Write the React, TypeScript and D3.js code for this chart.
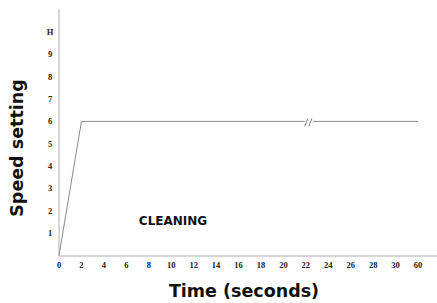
import React from "react";
import * as d3 from "d3";

const xCategories = ["0", "2", "4", "6", "8", "10", "12", "14", "16", "18", "20", "22", "24", "26", "28", "30", "60"];
const yTicks = [1, 2, 3, 4, 5, 6, 7, 8, 9, 10];
const yTickLabels = ["1", "2", "3", "4", "5", "6", "7", "8", "9", "H"];
const lineX = ["0", "2", "60"];
const lineY = [0, 6, 6];
const breakAfter = "22";
const annotation = "CLEANING";

const W = 437;
const H = 303;

export default function App() {
  const x = d3.scalePoint<string>().domain(xCategories).range([59, 418]);
  const y = d3.scaleLinear().domain([0, 10]).range([255.5, 32]);
  const pts: [number, number][] = lineX.map((c, i) => [x(c)!, y(lineY[i])]);
  const line = d3.line();
  const bx = x(breakAfter)! + 3;
  const by = y(6);
  const serif = "'Liberation Serif', 'DejaVu Serif', serif";
  const sans = "'DejaVu Sans', 'Liberation Sans', sans-serif";
  return (
    <svg width={W} height={H} style={{ position: "absolute", left: 0, top: 0, background: "#fff" }}>
      {/* axes */}
      <line x1={59} x2={59} y1={9} y2={256} stroke="#c8c8c8" strokeWidth={1.5} />
      <line x1={59} x2={437} y1={256} y2={256} stroke="#c8c8c8" strokeWidth={1.5} />
      {/* y tick labels */}
      {yTicks.map((t, i) => (
        <text key={t} x={50} y={y(t)} dy="0.35em" textAnchor="middle" fontFamily={serif} fontWeight="bold" fontSize={8.5} fill="#222">
          {yTickLabels[i]}
        </text>
      ))}
      {/* x tick labels */}
      {xCategories.map((c) => (
        <text key={c} x={x(c)!} y={268} textAnchor="middle" fontFamily={serif} fontWeight="bold" fontSize={8.5} fill="#222">
          {c}
        </text>
      ))}
      {/* data line */}
      <path d={line(pts)!} fill="none" stroke="#8a8a8a" strokeWidth={1} />
      {/* break marks */}
      <rect x={bx - 4} y={by - 2} width={8} height={4} fill="#fff" />
      <line x1={bx - 4} x2={bx - 1} y1={by + 5} y2={by - 3} stroke="#777" strokeWidth={1} />
      <line x1={bx} x2={bx + 3} y1={by + 5} y2={by - 3} stroke="#777" strokeWidth={1} />
      {/* annotation */}
      <text x={173} y={225} textAnchor="middle" fontFamily={sans} fontWeight="bold" fontSize={12} fill="#111">
        {annotation}
      </text>
      {/* axis titles */}
      <text x={244} y={297} textAnchor="middle" fontFamily={sans} fontWeight="bold" fontSize={17.5} fill="#111">
        Time (seconds)
      </text>
      <text transform={`translate(23,148) rotate(-90)`} textAnchor="middle" fontFamily={sans} fontWeight="bold" fontSize={17.5} fill="#111">
        Speed setting
      </text>
    </svg>
  );
}
